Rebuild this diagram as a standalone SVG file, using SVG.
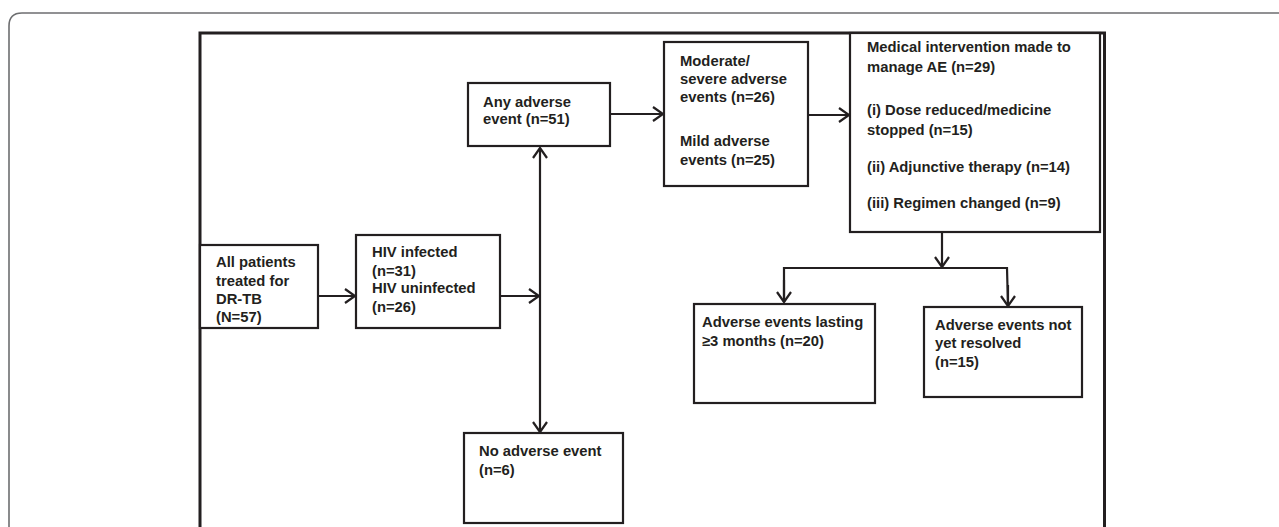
<svg xmlns="http://www.w3.org/2000/svg" width="1279" height="527" viewBox="0 0 1279 527">
<style>
.box{fill:#fff;stroke:#231f20;stroke-width:2.2}
.frame{fill:none;stroke:#231f20;stroke-width:3}
.outer{fill:none;stroke:#6d6e70;stroke-width:1.6}
.c{fill:none;stroke:#231f20;stroke-width:2.2}
text{font-family:"Liberation Sans",Arial,sans-serif;font-weight:bold;font-size:14.8px;fill:#231f20}
</style>
<defs>
<marker id="ah" markerUnits="userSpaceOnUse" markerWidth="14" markerHeight="16" refX="11" refY="8" orient="auto">
<path d="M1,1 L11,8 L1,15" fill="none" stroke="#231f20" stroke-width="2.2"/>
</marker>
</defs>
<rect width="1279" height="527" fill="#fff"/>
<path class="outer" d="M9,527 V26 Q9,13 22,13 H1279"/>
<path class="frame" d="M200,527 V33 H1104.5 V527"/>
<g id="connectors">
<line class="c" x1="318" y1="296" x2="355" y2="296" marker-end="url(#ah)"/>
<line class="c" x1="500" y1="296" x2="539" y2="296" marker-end="url(#ah)"/>
<line class="c" x1="540" y1="290" x2="540" y2="148" marker-end="url(#ah)"/>
<line class="c" x1="540" y1="290" x2="540" y2="432" marker-end="url(#ah)"/>
<line class="c" x1="610" y1="114" x2="663" y2="114" marker-end="url(#ah)"/>
<line class="c" x1="808" y1="115" x2="849" y2="115" marker-end="url(#ah)"/>
<line class="c" x1="942" y1="232" x2="942" y2="267" marker-end="url(#ah)"/>
<polyline class="c" points="784,302 784,268 1007,268 1008,306" fill="none"/>
<line class="c" x1="784" y1="280" x2="784" y2="302" marker-end="url(#ah)"/>
<line class="c" x1="1008" y1="285" x2="1008" y2="306" marker-end="url(#ah)"/>
</g>
<g id="all">
<rect class="box" x="200" y="245" width="118" height="83"/>
<text x="216" y="267">All patients</text>
<text x="216" y="286">treated for</text>
<text x="216" y="304">DR-TB</text>
<text x="216" y="322">(N=57)</text>
</g>
<g id="hiv">
<rect class="box" x="356" y="235" width="144" height="93"/>
<text x="372" y="257">HIV infected</text>
<text x="372" y="276">(n=31)</text>
<text x="372" y="293">HIV uninfected</text>
<text x="372" y="312">(n=26)</text>
</g>
<g id="any">
<rect class="box" x="468" y="83" width="142" height="63"/>
<text x="483" y="107">Any adverse</text>
<text x="483" y="124">event (n=51)</text>
</g>
<g id="none">
<rect class="box" x="464" y="433" width="159" height="90"/>
<text x="479" y="456">No adverse event</text>
<text x="479" y="475">(n=6)</text>
</g>
<g id="severity">
<rect class="box" x="664" y="42" width="144" height="144"/>
<text x="680" y="66">Moderate/</text>
<text x="680" y="84">severe adverse</text>
<text x="680" y="102">events (n=26)</text>
<text x="680" y="146">Mild adverse</text>
<text x="680" y="165">events (n=25)</text>
</g>
<g id="intervention">
<rect class="box" x="850" y="33" width="250" height="199"/>
<text x="867" y="52">Medical intervention made to</text>
<text x="867" y="72">manage AE (n=29)</text>
<text x="867" y="115">(i) Dose reduced/medicine</text>
<text x="867" y="135">stopped (n=15)</text>
<text x="867" y="172">(ii) Adjunctive therapy (n=14)</text>
<text x="867" y="208">(iii) Regimen changed (n=9)</text>
</g>
<g id="lasting">
<rect class="box" x="694" y="304" width="181" height="99"/>
<text x="702" y="327">Adverse events lasting</text>
<text x="702" y="346">≥3 months (n=20)</text>
</g>
<g id="unresolved">
<rect class="box" x="924" y="307" width="158" height="90"/>
<text x="935" y="330">Adverse events not</text>
<text x="935" y="348">yet resolved</text>
<text x="935" y="367">(n=15)</text>
</g>
</svg>
